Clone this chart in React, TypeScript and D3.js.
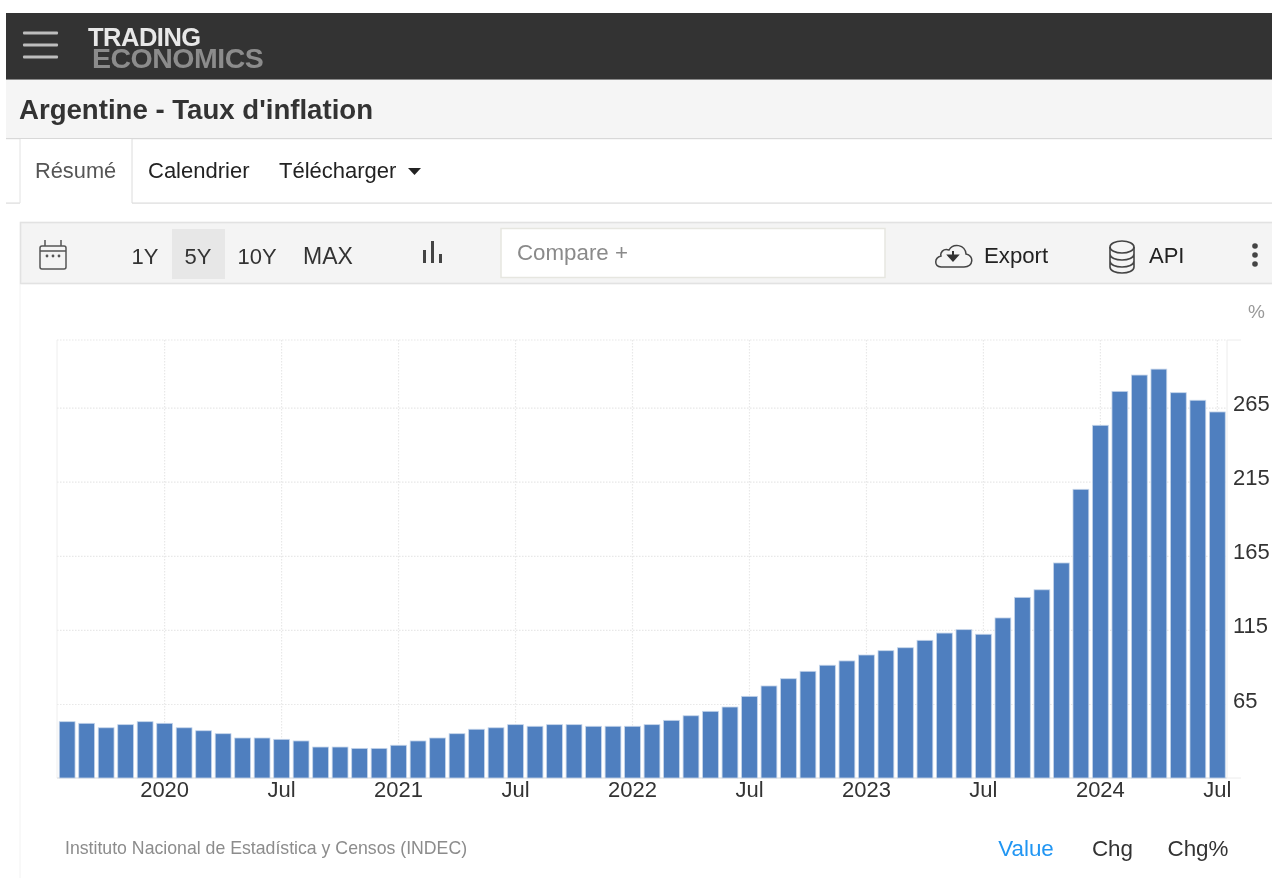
import React from "react";
import * as d3 from "d3";

const months: string[] = d3.timeMonth
  .range(new Date(2019, 7, 1), new Date(2024, 7, 1))
  .map((d) => d3.timeFormat("%Y-%m")(d));

const inflationValues: number[] = [
  53.4, 52.3, 49.3, 51.4, 53.4, 52.3, 49.3, 47.3, 45.3, 42.4, 42.4, 41.5,
  40.4, 36.3, 36.3, 35.4, 35.4, 37.5, 40.4, 42.4, 45.3, 48.3, 49.3, 51.4,
  50.3, 51.4, 51.4, 50.3, 50.3, 50.3, 51.4, 54.3, 57.4, 60.4, 63.3, 70.5,
  77.5, 82.4, 87.4, 91.5, 94.4, 98.4, 101.3, 103.3, 108.3, 113.2, 115.5, 112.4,
  123.4, 137.3, 142.4, 160.5, 210.2, 253.4, 276.3, 287.3, 291.3, 275.4, 270.3, 262.4,
];

const yTicks: number[] = [65, 115, 165, 215, 265];
const xTickMonths: string[] = ["2020-01", "2020-07", "2021-01", "2021-07", "2022-01", "2022-07", "2023-01", "2023-07", "2024-01", "2024-07"];
const xTickLabels: string[] = ["2020", "Jul", "2021", "Jul", "2022", "Jul", "2023", "Jul", "2024", "Jul"];
const rangeButtons: string[] = ["1Y", "5Y", "10Y", "MAX"];
const rangeButtonCentres: number[] = [145, 198, 257, 328];
const footerTabs: string[] = ["Value", "Chg", "Chg%"];
const footerTabCentres: number[] = [1026, 1112.5, 1198];

const FONT = "'Liberation Sans', Arial, sans-serif";
const BAR = "#4f7fbf";
const GRID = "#e8e8e8";

export default function App() {
  const x = d3.scaleBand<string>().domain(months).range([57.5, 1227]).paddingInner(0.19).paddingOuter(0.09);
  const y = d3.scaleLinear().domain([65, 265]).range([704.5, 408.1]);
  const xc = (m: string) => (x(m) as number) + x.bandwidth() / 2;
  const baseY = 778;
  const topY = 340;

  return (
    <svg
      width={1272}
      height={878}
      viewBox="0 0 1272 878"
      style={{ position: "absolute", left: 0, top: 0, fontFamily: FONT, background: "#fff", filter: "blur(0.35px)" }}
    >
      {/* header */}
      <rect x={6} y={13} width={1266} height={67} fill="#333333" />
      <rect x={6} y={79} width={1266} height={1.5} fill="#8a8a8a" />
      {[33, 45, 57].map((yy) => (
        <rect key={yy} x={23} y={yy - 1.5} width={35} height={3} rx={1} fill="#bdbdbd" />
      ))}
      <text x={88} y={46} fontSize={25.5} fontWeight={700} fill="#e8e8e8" letterSpacing={-0.5}>TRADING</text>
      <text x={92} y={68} fontSize={28.5} fontWeight={700} fill="#8c8c8c" letterSpacing={-0.5}>ECONOMICS</text>

      {/* title band */}
      <rect x={6} y={80} width={1266} height={58} fill="#f5f5f5" />
      <rect x={6} y={138} width={1266} height={1.2} fill="#d8d8d8" />
      <text x={19} y={119} fontSize={27.6} fontWeight={700} fill="#333">Argentine - Taux d'inflation</text>

      {/* tabs */}
      <rect x={6} y={202.5} width={1266} height={1.2} fill="#dcdcdc" />
      <rect x={20} y={139} width={112} height={66} fill="#fff" />
      <line x1={20} x2={20} y1={139} y2={203} stroke="#e2e2e2" />
      <line x1={132} x2={132} y1={139} y2={203} stroke="#dcdcdc" />
      <text x={35} y={178} fontSize={21.8} fill="#555">Résumé</text>
      <text x={148} y={178} fontSize={22} fill="#222">Calendrier</text>
      <text x={279} y={178} fontSize={22} fill="#222">Télécharger</text>
      <path d="M408 168h13l-6.5 7z" fill="#222" />

      {/* toolbar */}
      <rect x={20.5} y={222.5} width={1260} height={61} fill="#f4f4f4" stroke="#e2e2e2" strokeWidth={1.6} />
      <g fill="none" stroke="#555" strokeWidth={1.5}>
        <rect x={40} y={246} width={26} height={23} rx={2} />
        <line x1={40} x2={66} y1={251} y2={251} />
        <line x1={45} x2={45} y1={240} y2={246} />
        <line x1={61} x2={61} y1={240} y2={246} />
      </g>
      {[47, 53, 59].map((cx) => <circle key={cx} cx={cx} cy={256} r={1.4} fill="#555" />)}
      <rect x={172} y={229} width={53} height={50} fill="#e7e7e7" />
      {rangeButtons.map((b, i) => (
        <text key={b} x={rangeButtonCentres[i]} y={264} fontSize={b === "MAX" ? 23 : 22} fill="#333" textAnchor="middle">{b}</text>
      ))}
      <g fill="#444">
        <rect x={423} y={250} width={3} height={13} />
        <rect x={431} y={241} width={3} height={22} />
        <rect x={439} y={254} width={3} height={9} />
      </g>
      <rect x={501} y={228.5} width={384} height={49} fill="#fff" stroke="#e6e6e0" strokeWidth={1.5} />
      <text x={517} y={260} fontSize={22.3} fill="#8a8a8a">Compare +</text>
      <g fill="none" stroke="#444" strokeWidth={1.5}>
        <path d="M941 267h23c10 0 10-12 2-13c-1-10-13-11-17-4c-6-2-9 3-8 6c-7 2-7 10 0 11z" />
      </g>
      <path d="M953 251v6M948.5 255.5l4.5 5l4.5-5z" stroke="#333" strokeWidth={2} fill="#333" />
      <text x={984} y={263} fontSize={22.2} fill="#222">Export</text>
      <g fill="none" stroke="#444" strokeWidth={1.6}>
        <ellipse cx={1122} cy={247} rx={12} ry={6} />
        <path d="M1110 247v20c0 8 24 8 24 0v-20M1110 254c0 8 24 8 24 0M1110 261c0 8 24 8 24 0" />
      </g>
      <text x={1149} y={263} fontSize={22} fill="#222">API</text>
      {[246, 255, 264].map((cy) => <circle key={cy} cx={1255} cy={cy} r={2.8} fill="#444" />)}

      {/* chart frame */}
      <line x1={20} x2={20} y1={284} y2={878} stroke="#f2f2f2" />
      <text x={1248} y={318} fontSize={19} fill="#999">%</text>

      {/* grid */}
      <g stroke={GRID} strokeWidth={1.2} strokeDasharray="1.5 1.5">
        <line x1={57} x2={1227} y1={topY} y2={topY} />
        {yTicks.map((t) => <line key={t} x1={57} x2={1227} y1={y(t)} y2={y(t)} />)}
        {xTickMonths.map((m) => <line key={m} x1={xc(m)} x2={xc(m)} y1={topY} y2={baseY} />)}
      </g>
      <line x1={57} x2={57} y1={topY} y2={baseY} stroke="#eeeeee" />
      <line x1={1227} x2={1227} y1={topY} y2={baseY} stroke="#ececec" />
      <line x1={1227} x2={1241} y1={topY} y2={topY} stroke="#ececec" />
      <line x1={1227} x2={1241} y1={baseY} y2={baseY} stroke="#ececec" />
      <line x1={57} x2={1227} y1={baseY} y2={baseY} stroke="#e6e6e6" strokeWidth={1.5} />

      {/* bars */}
      {months.map((m, i) => (
        <rect
          key={m}
          x={x(m)}
          y={y(inflationValues[i])}
          width={x.bandwidth()}
          height={baseY - y(inflationValues[i])}
          fill={BAR}
          stroke="#c5d5ea"
          strokeWidth={0.8}
        />
      ))}

      {/* axis labels */}
      {yTicks.map((t) => (
        <text key={t} x={1233} y={y(t) + 3} fontSize={22} fill="#333">{t}</text>
      ))}
      {xTickMonths.map((m, i) => (
        <text key={m} x={xc(m)} y={797} fontSize={22} fill="#333" textAnchor="middle">{xTickLabels[i]}</text>
      ))}

      {/* footer */}
      <text x={65} y={854} fontSize={17.7} fill="#8c8c8c">Instituto Nacional de Estadística y Censos (INDEC)</text>
      {footerTabs.map((t, i) => (
        <text key={t} x={footerTabCentres[i]} y={856} fontSize={22.4} fill={i === 0 ? "#2196f3" : "#333"} textAnchor="middle">{t}</text>
      ))}
    </svg>
  );
}
